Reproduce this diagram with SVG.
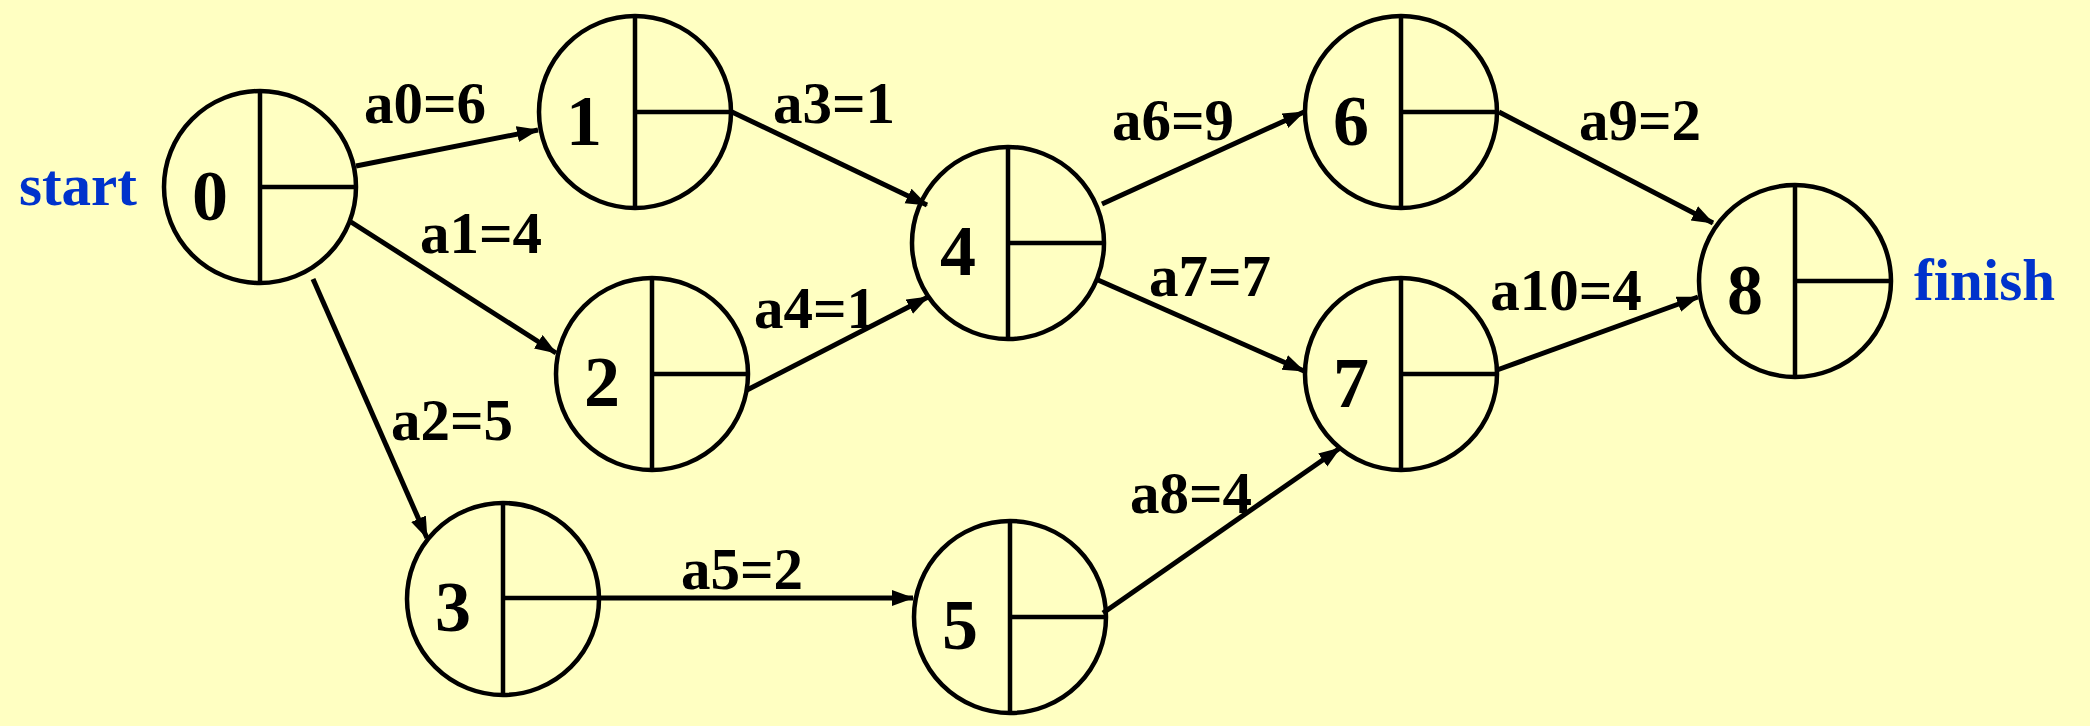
<svg xmlns="http://www.w3.org/2000/svg" width="2090" height="726" viewBox="0 0 2090 726">
<defs>
<marker id="arr" markerUnits="userSpaceOnUse" markerWidth="24" markerHeight="18" refX="21" refY="8" orient="auto">
<path d="M0,0 L22,8 L0,16 z" fill="#000"/>
</marker>
<style>
.nd ellipse{fill:none;stroke:#000;stroke-width:4.5}
.nd line{stroke:#000;stroke-width:4.5}
.nd text{font-family:"Liberation Serif","Times New Roman",serif;font-weight:bold;font-size:72px;text-anchor:middle;fill:#000}
.ed line{stroke:#000;stroke-width:5;marker-end:url(#arr)}
.lb{font-family:"Liberation Serif","Times New Roman",serif;font-weight:bold;font-size:59px;text-anchor:middle;fill:#000}
.bl{font-family:"Liberation Serif","Times New Roman",serif;font-weight:bold;font-size:59px;fill:#0033cc}
</style>
</defs>
<rect width="2090" height="726" fill="#ffffc2"/>
<g id="connectors" class="ed">
<line x1="356" y1="166" x2="538" y2="130"/>
<line x1="351" y1="222" x2="556" y2="353"/>
<line x1="313" y1="279" x2="427" y2="538"/>
<line x1="732" y1="112" x2="927" y2="205"/>
<line x1="747" y1="390" x2="928" y2="297"/>
<line x1="600" y1="598" x2="913" y2="598"/>
<line x1="1102" y1="204" x2="1304" y2="112"/>
<line x1="1098" y1="280" x2="1304" y2="371"/>
<line x1="1103" y1="613" x2="1340" y2="448"/>
<line x1="1499" y1="112" x2="1713" y2="223"/>
<line x1="1497" y1="370" x2="1698" y2="297"/>
</g>
<g id="labels">
<text class="lb" x="425" y="123">a0=6</text>
<text class="lb" x="481" y="253">a1=4</text>
<text class="lb" x="452" y="440">a2=5</text>
<text class="lb" x="834" y="123">a3=1</text>
<text class="lb" x="815" y="328">a4=1</text>
<text class="lb" x="742" y="589">a5=2</text>
<text class="lb" x="1173" y="140">a6=9</text>
<text class="lb" x="1210" y="296">a7=7</text>
<text class="lb" x="1191" y="513">a8=4</text>
<text class="lb" x="1640" y="140">a9=2</text>
<text class="lb" x="1566" y="310">a10=4</text>
<text class="bl" x="19" y="205">start</text>
<text class="bl" x="1914" y="300">finish</text>
</g>
<g id="n0" class="nd"><ellipse cx="260" cy="187" rx="96" ry="96"/><line x1="260" y1="91" x2="260" y2="283"/><line x1="260" y1="187" x2="356" y2="187"/><text x="210" y="220">0</text></g>
<g id="n1" class="nd"><ellipse cx="635" cy="112" rx="96" ry="96"/><line x1="635" y1="16" x2="635" y2="208"/><line x1="635" y1="112" x2="731" y2="112"/><text x="584" y="145">1</text></g>
<g id="n2" class="nd"><ellipse cx="652" cy="374" rx="96" ry="96"/><line x1="652" y1="278" x2="652" y2="470"/><line x1="652" y1="374" x2="748" y2="374"/><text x="602" y="406">2</text></g>
<g id="n3" class="nd"><ellipse cx="503" cy="599" rx="96" ry="96"/><line x1="503" y1="503" x2="503" y2="695"/><line x1="503" y1="598" x2="599" y2="598"/><text x="453" y="631">3</text></g>
<g id="n4" class="nd"><ellipse cx="1008" cy="243" rx="96" ry="96"/><line x1="1008" y1="147" x2="1008" y2="339"/><line x1="1008" y1="243" x2="1104" y2="243"/><text x="958" y="275">4</text></g>
<g id="n5" class="nd"><ellipse cx="1010" cy="617" rx="96" ry="96"/><line x1="1010" y1="521" x2="1010" y2="713"/><line x1="1010" y1="617" x2="1106" y2="617"/><text x="960" y="649">5</text></g>
<g id="n6" class="nd"><ellipse cx="1401" cy="112" rx="96" ry="96"/><line x1="1401" y1="16" x2="1401" y2="208"/><line x1="1401" y1="112" x2="1497" y2="112"/><text x="1351" y="145">6</text></g>
<g id="n7" class="nd"><ellipse cx="1401" cy="374" rx="96" ry="96"/><line x1="1401" y1="278" x2="1401" y2="470"/><line x1="1401" y1="374" x2="1497" y2="374"/><text x="1351" y="407">7</text></g>
<g id="n8" class="nd"><ellipse cx="1795" cy="281" rx="96" ry="96"/><line x1="1795" y1="185" x2="1795" y2="377"/><line x1="1795" y1="281" x2="1891" y2="281"/><text x="1745" y="314">8</text></g>
</svg>
